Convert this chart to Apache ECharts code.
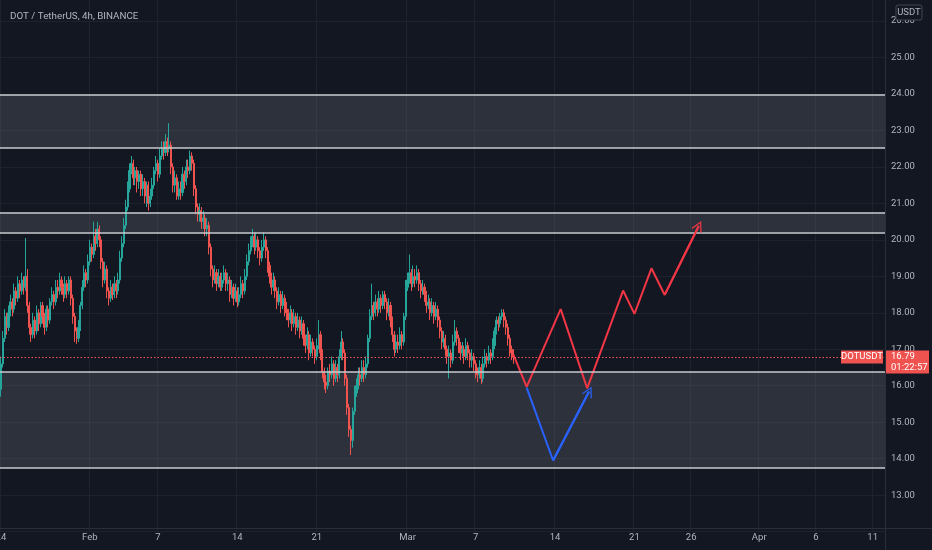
<!DOCTYPE html>
<html><head><meta charset="utf-8">
<script src="https://cdn.jsdelivr.net/npm/echarts@6/dist/echarts.min.js"></script>
<style>html,body{margin:0;padding:0;background:#131722;overflow:hidden}#c{width:932px;height:550px}</style>
</head><body><div id="c"></div>
<script>
// ---------- DATA ----------
const startTimeUTC = Date.UTC(2022, 0, 24, 4); // first 4h slot
const slotCount = 468;
const firstOpen = 15.9;
const closes = [16.6,17.3,17.9,17.6,18.0,18.3,18.1,18.6,18.4,18.8,
18.6,18.9,18.7,19.0,18.2,17.6,17.4,17.8,17.5,18.0,
17.7,18.2,17.9,17.6,18.1,17.8,18.3,18.5,18.3,18.7,
18.6,18.9,18.7,18.5,18.8,18.6,18.9,18.4,17.9,17.5,
17.3,17.6,18.2,18.7,19.1,18.9,19.4,19.8,19.6,20.1,
19.9,20.3,20.0,19.4,18.9,19.2,18.6,18.4,18.7,18.5,
18.8,18.6,18.9,19.5,19.9,20.4,20.9,21.4,21.9,22.1,
21.7,21.9,21.6,21.8,21.4,21.6,21.2,21.5,21.0,21.2,
21.5,21.9,22.1,21.8,22.3,22.5,22.4,22.7,22.5,22.6,
22.0,21.5,21.7,21.2,21.4,21.3,21.8,21.6,22.0,21.9,
22.3,22.1,21.4,20.9,20.7,20.8,20.5,20.6,20.3,20.4,
19.8,19.2,18.9,19.1,18.8,19.0,18.7,18.9,19.1,18.8,
18.9,18.5,18.7,18.4,18.6,18.3,18.5,18.8,18.6,19.0,
19.4,19.7,19.9,20.1,19.8,20.0,19.7,19.5,19.8,20.0,
19.7,19.3,19.0,18.7,18.9,18.6,18.3,18.5,18.2,18.4,
18.1,18.0,17.8,18.0,17.7,17.9,17.6,17.8,17.5,17.7,
17.3,17.1,17.4,16.9,17.2,17.0,16.8,17.1,17.4,16.9,
16.4,16.1,16.0,16.4,16.3,16.6,16.2,16.5,16.3,16.8,
17.2,16.9,16.2,15.4,14.8,14.5,15.3,15.8,16.0,16.3,
16.2,16.5,16.3,16.6,17.3,17.9,18.2,18.0,18.3,18.1,
18.4,18.2,18.5,18.3,18.0,18.2,17.8,17.4,17.0,17.2,
17.1,17.4,17.2,17.9,18.7,18.9,19.1,18.8,19.0,18.9,
19.1,18.8,18.6,18.7,18.5,18.2,18.3,18.0,18.2,17.9,
18.1,17.8,17.5,17.2,17.3,17.0,16.8,16.9,16.7,17.2,
17.5,17.3,17.1,16.9,17.0,16.8,17.1,16.9,16.7,16.8,
16.6,16.4,16.3,16.5,16.2,16.6,16.8,16.7,16.9,16.8,
17.1,17.5,17.8,17.7,17.9,18.0,17.8,17.6,17.3,17.0,
16.9,16.79];
const highs = [16.8,17.5,18.1,18.0,18.2,18.5,18.4,18.8,18.7,19.0,
18.9,19.1,19.0,20.05,19.2,18.3,17.7,18.0,17.9,18.2,
18.1,18.3,18.3,18.0,18.2,18.2,18.4,18.7,18.6,18.9,
18.9,19.1,19.0,18.8,19.0,18.9,19.0,19.0,18.5,18.0,
17.6,17.8,18.3,18.9,19.3,19.2,19.6,20.0,19.9,20.5,
20.3,20.5,20.4,20.1,19.5,19.4,19.3,18.7,18.9,18.8,
19.0,18.9,19.1,19.7,20.1,20.6,21.1,21.6,22.1,22.3,
22.2,22.0,22.0,21.9,21.9,21.8,21.7,21.6,21.6,21.4,
21.7,22.0,22.3,22.2,22.5,22.7,22.7,22.9,22.8,23.2,
22.7,22.1,21.9,21.8,21.6,21.6,22.0,21.9,22.2,22.2,
22.45,22.4,22.2,21.5,21.0,21.0,20.9,20.8,20.7,20.6,
20.5,19.9,19.3,19.3,19.2,19.2,19.1,19.1,19.3,19.2,
19.1,19.0,18.9,18.8,18.8,18.7,18.7,19.0,18.9,19.2,
19.6,19.9,20.1,20.3,20.2,20.2,20.1,19.8,20.0,20.2,
20.1,19.8,19.4,19.1,19.1,19.0,18.7,18.7,18.6,18.6,
18.5,18.3,18.1,18.2,18.1,18.1,18.0,18.0,17.9,17.9,
17.8,17.4,17.6,17.5,17.4,17.3,17.1,17.3,17.8,17.5,
17.0,16.5,16.3,16.5,16.6,16.8,16.7,16.7,16.6,17.0,
17.5,17.3,17.0,16.3,15.5,14.9,15.4,16.0,16.2,16.5,
16.5,16.7,16.7,16.8,17.4,18.1,18.8,18.3,18.5,18.4,
18.6,18.5,18.6,18.6,18.4,18.4,18.3,17.9,17.5,17.4,
17.4,17.6,17.5,18.0,18.9,19.1,19.6,19.2,19.3,19.2,
19.3,19.2,18.9,18.9,18.8,18.6,18.5,18.4,18.4,18.3,
18.3,18.2,17.9,17.6,17.5,17.4,17.1,17.1,17.0,17.4,
17.8,17.6,17.4,17.2,17.2,17.1,17.3,17.2,17.0,17.0,
16.9,16.7,16.5,16.7,16.6,16.8,17.0,16.9,17.1,17.0,
17.3,17.6,17.9,17.9,18.0,18.1,18.1,17.9,17.7,17.4,
17.1,17.0];
const lows = [15.7,16.5,17.2,17.4,17.5,17.9,17.9,18.0,18.2,18.3,
18.4,18.5,18.5,18.6,18.0,17.4,17.2,17.3,17.3,17.4,
17.5,17.6,17.7,17.4,17.5,17.6,17.7,18.2,18.1,18.2,
18.4,18.5,18.5,18.3,18.4,18.4,18.5,18.2,17.7,17.2,
17.15,17.2,17.5,18.1,18.6,18.7,18.8,19.3,19.4,19.5,
19.7,19.8,19.8,19.2,18.7,18.8,18.4,18.2,18.3,18.35,
18.4,18.4,18.5,18.8,19.4,19.8,20.3,20.8,21.3,21.8,
21.5,21.5,21.3,21.4,21.2,21.2,21.0,20.9,20.8,20.9,
21.1,21.4,21.8,21.6,21.7,22.2,22.2,22.3,22.3,22.4,
21.8,21.3,21.3,21.1,21.1,21.1,21.2,21.4,21.5,21.7,
21.8,21.9,21.2,20.7,20.5,20.5,20.3,20.3,20.1,20.1,
19.6,19.0,18.7,18.8,18.6,18.7,18.6,18.6,18.8,18.6,
18.6,18.3,18.4,18.2,18.3,18.15,18.2,18.4,18.4,18.5,
18.9,19.3,19.6,19.8,19.6,19.7,19.5,19.3,19.4,19.7,
19.5,19.1,18.8,18.5,18.6,18.4,18.1,18.2,18.0,18.1,
17.9,17.8,17.6,17.7,17.5,17.6,17.4,17.5,17.3,17.4,
17.1,16.9,17.0,16.7,16.8,16.8,16.6,16.7,17.0,16.7,
16.2,15.9,15.8,15.9,16.1,16.2,16.0,16.1,16.1,16.2,
16.7,16.7,16.0,15.2,14.6,14.1,14.3,15.2,15.7,15.9,
16.0,16.1,16.1,16.2,16.5,17.2,17.8,17.8,17.9,17.9,
18.0,18.0,18.1,18.1,17.8,17.9,17.6,17.2,16.8,16.9,
16.9,17.0,17.0,17.1,17.8,18.6,18.8,18.6,18.7,18.7,
18.8,18.6,18.4,18.5,18.3,18.0,18.1,17.8,17.9,17.7,
17.8,17.6,17.3,17.0,17.05,16.8,16.6,16.2,16.5,16.6,
17.1,17.1,16.9,16.7,16.8,16.6,16.7,16.7,16.5,16.5,
16.4,16.2,16.1,16.2,16.05,16.1,16.5,16.5,16.6,16.6,
16.7,17.0,17.4,17.5,17.6,17.8,17.6,17.4,17.1,16.8,
16.7,16.6];

const tickDates  = ['2022-01-24 04:00','2022-02-01 00:00','2022-02-07 00:00','2022-02-14 00:00','2022-02-21 00:00','2022-03-01 00:00','2022-03-07 00:00','2022-03-14 00:00','2022-03-21 00:00','2022-03-26 00:00','2022-04-01 00:00','2022-04-06 00:00','2022-04-11 00:00'];
const tickLabels = ['24','Feb','7','14','21','Mar','7','14','21','26','Apr','6','11'];

const zoneLow  = [22.52, 20.20, 13.75];
const zoneHigh = [23.97, 20.75, 16.38];

const lastPrice = 16.79;
const countdown = '01:22:57';
const symbolName = 'DOTUSDT';
const quoteName = 'USDT';
const titleText = 'DOT / TetherUS, 4h, BINANCE';

// projection drawings (slot index, price)
const redPathSlot  = [271, 278, 296, 310, 329, 335, 344, 351, 369];
const redPathPrice = [16.85, 15.97, 18.10, 15.93, 18.61, 17.97, 19.22, 18.49, 20.38];
const bluePathSlot  = [278, 292, 311];
const bluePathPrice = [15.95, 13.95, 15.84];

// ---------- BUILD ----------
const pad = n => String(n).padStart(2, '0');
const fmt = t => { const d = new Date(t); return d.getUTCFullYear() + '-' + pad(d.getUTCMonth() + 1) + '-' + pad(d.getUTCDate()) + ' ' + pad(d.getUTCHours()) + ':00'; };
const categories = [];
for (let i = 0; i < slotCount; i++) categories.push(fmt(startTimeUTC + i * 4 * 3600 * 1000));
const labelMap = {};
tickDates.forEach((d, i) => labelMap[d] = tickLabels[i]);
const isTick = (idx, val) => labelMap[val] !== undefined;

const candles = closes.map((c, i) => [i === 0 ? firstOpen : closes[i - 1], c, lows[i], highs[i]]);
const redPath = redPathSlot.map((s, i) => [s, redPathPrice[i]]);
const bluePath = bluePathSlot.map((s, i) => [s, bluePathPrice[i]]);

const BG = '#131722', TXT = '#b2b5be', GRID = '#1e222d', UP = '#26a69a', DOWN = '#ef5350';
const FONT = 'Roboto, "Noto Sans", sans-serif';
const chevron = 'path://M10,0 L20,15 L18.2,16.2 L10,3.6 L1.8,16.2 L0,15 Z';

const chart = echarts.init(document.getElementById('c'), null, {renderer: 'canvas'});
const option = {
  animation: false,
  backgroundColor: BG,
  title: {text: titleText, left: 5, top: 7, textStyle: {color: TXT, fontSize: 9.8, fontWeight: 'normal', fontFamily: FONT}},
  grid: {left: 0, right: 47, top: -15.4, bottom: 18.4, containLabel: false, outerBoundsMode: 'none'},
  xAxis: {
    type: 'category', data: categories, boundaryGap: true,
    axisLine: {show: false}, axisTick: {show: false},
    axisLabel: {interval: isTick, formatter: v => labelMap[v] || '', color: TXT, fontSize: 9.5, fontFamily: FONT, margin: 1, hideOverlap: false},
    splitLine: {show: true, interval: isTick, lineStyle: {color: GRID, width: 1}}
  },
  yAxis: {
    type: 'value', position: 'right', min: 12, max: 27, interval: 1, scale: true,
    axisLine: {show: false}, axisTick: {show: false},
    axisLabel: {color: TXT, fontSize: 9.5, fontFamily: FONT, margin: 6, align: 'left',
      formatter: v => (v === 12 || v === 27) ? '' : v.toFixed(2)},
    splitLine: {show: true, lineStyle: {color: GRID, width: 1}}
  },
  series: [
    {
      name: 'zones', type: 'line', data: [], z: 1, silent: true,
      markArea: {silent: true, itemStyle: {color: 'rgba(120,123,134,0.27)'},
        data: zoneLow.map((lo, i) => [{yAxis: lo}, {yAxis: zoneHigh[i]}])},
      markLine: {silent: true, symbol: ['none', 'none'], label: {show: false},
        lineStyle: {color: '#c9cbd1', width: 1.5, type: 'solid'},
        data: zoneLow.concat(zoneHigh).map(v => ({yAxis: v}))}
    },
    {
      name: 'price', type: 'line', data: [], z: 2, silent: true,
      markLine: {silent: true, symbol: ['none', 'none'], label: {show: false},
        lineStyle: {color: '#f7525f', width: 1.2, type: [1.5, 2], opacity: 1},
        data: [{yAxis: lastPrice}]}
    },
    {
      name: 'DOTUSDT', type: 'candlestick', data: candles, z: 3, barWidth: 1.6,
      itemStyle: {color: UP, color0: DOWN, borderColor: UP, borderColor0: DOWN, borderWidth: 1}
    },
    {
      name: 'red', type: 'line', data: redPath, z: 4, symbol: 'none', showSymbol: false,
      lineStyle: {color: '#f23645', width: 2},
      markLine: {silent: true, symbol: ['none', chevron], symbolSize: 11, label: {show: false},
        lineStyle: {color: '#f23645', width: 2, type: 'solid'},
        data: [[{coord: redPath[redPath.length - 2]}, {coord: redPath[redPath.length - 1]}]]}
    },
    {
      name: 'blue', type: 'line', data: bluePath, z: 4, symbol: 'none', showSymbol: false,
      lineStyle: {color: '#2962ff', width: 2},
      markLine: {silent: true, symbol: ['none', chevron], symbolSize: 11, label: {show: false},
        lineStyle: {color: '#2962ff', width: 2, type: 'solid'},
        data: [[{coord: bluePath[bluePath.length - 2]}, {coord: bluePath[bluePath.length - 1]}]]}
    }
  ]
};
chart.setOption(option);

const py = chart.convertToPixel({yAxisIndex: 0}, lastPrice);
const axisX = 885;
chart.setOption({
  graphic: [
    {type: 'line', z: 100, shape: {x1: axisX + 0.5, y1: 0, x2: axisX + 0.5, y2: 550}, style: {stroke: '#2a2e39', lineWidth: 1}},
    {type: 'line', z: 100, shape: {x1: 0, y1: 528.5, x2: 932, y2: 528.5}, style: {stroke: '#2a2e39', lineWidth: 1}},
    {type: 'rect', z: 101, shape: {x: axisX - 44, y: py - 6.5, width: 42, height: 13}, style: {fill: DOWN}},
    {type: 'text', z: 102, x: axisX - 23, y: py, style: {text: symbolName, fill: '#ffffff', font: '9.5px ' + FONT, align: 'center', verticalAlign: 'middle', textAlign: 'center', textVerticalAlign: 'middle'}},
    {type: 'rect', z: 101, shape: {x: axisX + 1, y: py - 6.5, width: 43, height: 23}, style: {fill: DOWN}},
    {type: 'text', z: 102, x: axisX + 6, y: py, style: {text: lastPrice.toFixed(2), fill: '#ffffff', font: '9.5px ' + FONT, align: 'left', verticalAlign: 'middle', textAlign: 'left', textVerticalAlign: 'middle'}},
    {type: 'text', z: 102, x: axisX + 6, y: py + 11, style: {text: countdown, fill: '#ffffff', font: '9.5px ' + FONT, align: 'left', verticalAlign: 'middle', textAlign: 'left', textVerticalAlign: 'middle'}},
    {type: 'rect', z: 101, shape: {x: 896, y: 5, width: 26, height: 15, r: 2}, style: {fill: BG, stroke: '#434651', lineWidth: 1}},
    {type: 'text', z: 102, x: 909, y: 12.5, style: {text: quoteName, fill: TXT, font: '9.5px ' + FONT, align: 'center', verticalAlign: 'middle', textAlign: 'center', textVerticalAlign: 'middle'}}
  ]
});
</script>
</body></html>
